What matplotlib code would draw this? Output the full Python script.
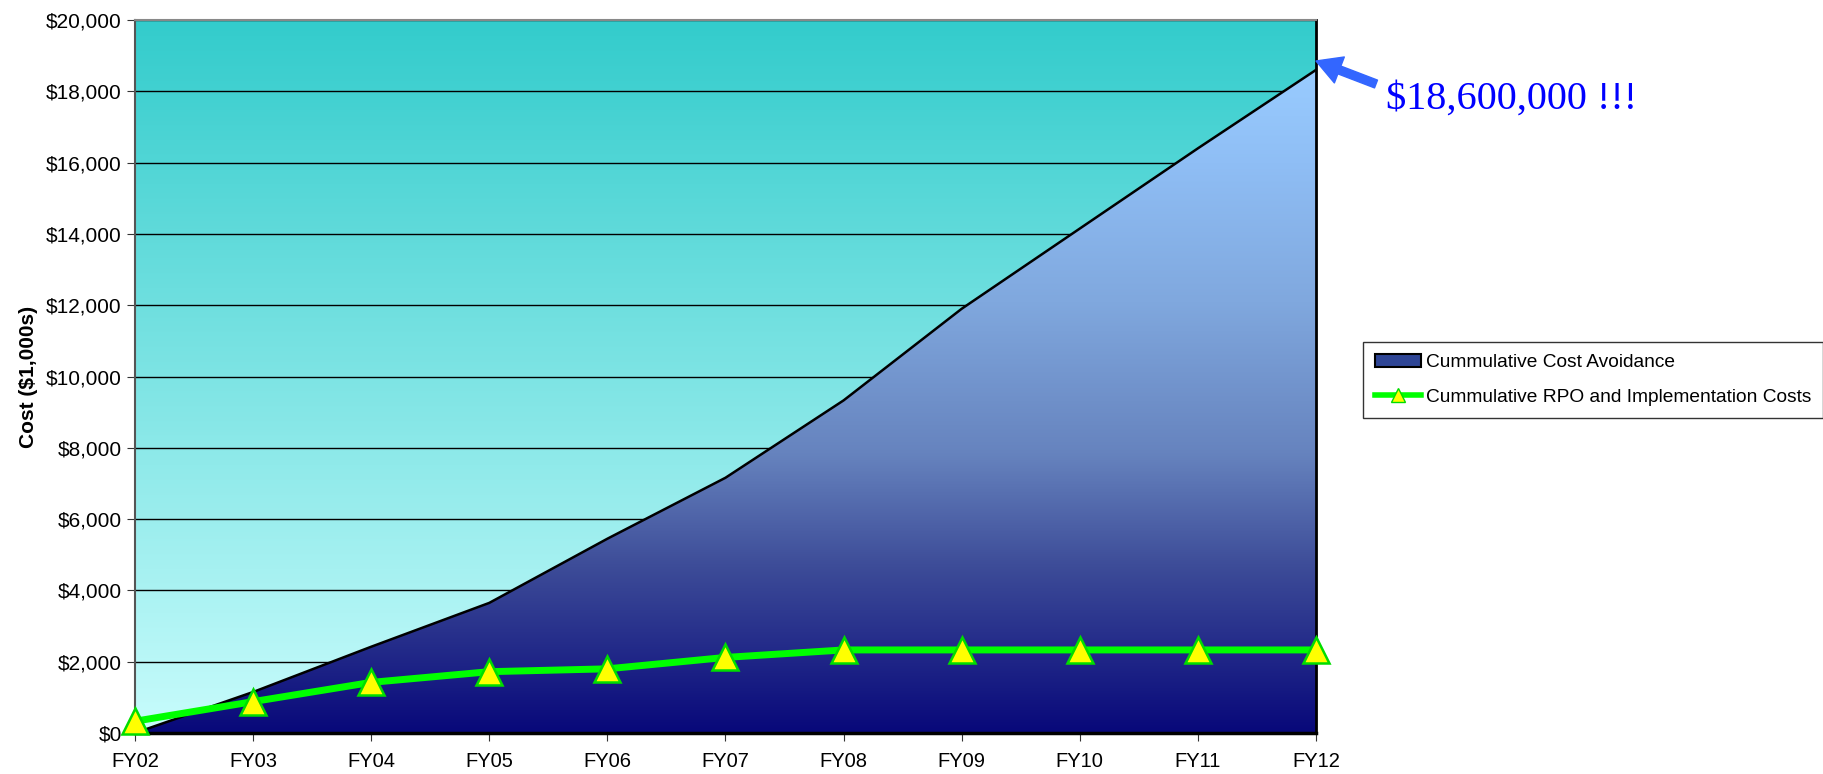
import numpy as np
import matplotlib
matplotlib.use("Agg")
import matplotlib.pyplot as plt
from matplotlib.colors import LinearSegmentedColormap
from matplotlib.patches import Patch
from matplotlib.lines import Line2D
from matplotlib.ticker import FuncFormatter

# data ($1,000s)
years = ["FY02", "FY03", "FY04", "FY05", "FY06", "FY07", "FY08", "FY09", "FY10", "FY11", "FY12"]
cost_avoidance = [0, 1150, 2420, 3650, 5450, 7160, 9330, 11900, 14150, 16400, 18600]
rpo_costs = [330, 880, 1420, 1720, 1800, 2120, 2330, 2330, 2330, 2330, 2330]

plt.rcParams['font.family'] = ['Liberation Sans', 'DejaVu Sans']

fig = plt.figure(figsize=(18.24, 7.74), dpi=100)
ax = fig.add_axes([135/1824, 1-733/774, (1316-135)/1824, (733-20)/774])

x = np.arange(len(years))
ymax = 20000

# plot area background gradient (light cyan at bottom -> teal at top)
bg_cmap = LinearSegmentedColormap.from_list("bg", ["#C8FCFC", "#33CCCC"])
grad = np.linspace(0, 1, 256).reshape(-1, 1)
ax.imshow(grad, cmap=bg_cmap, origin="lower", aspect="auto",
          extent=[0, len(years)-1, 0, ymax], zorder=0)

# area with its own gradient, clipped to the area polygon
poly = ax.fill_between(x, 0, cost_avoidance, facecolor="none", edgecolor="none", zorder=1)
area_cmap = LinearSegmentedColormap.from_list(
    "area", [(0, "#08087A"), (0.25, "#3D4C98"), (0.42, "#6683BE"),
             (0.65, "#80A8DE"), (0.86, "#8FBEF5"), (1, "#99CCFF")])
im = ax.imshow(grad, cmap=area_cmap, origin="lower", aspect="auto",
               extent=[0, len(years)-1, 0, max(cost_avoidance)], zorder=2)
im.set_clip_path(poly.get_paths()[0], transform=ax.transData)
ax.plot(x, cost_avoidance, color="black", lw=1.8, zorder=3)

# RPO + implementation line
ax.plot(x, rpo_costs, color="#00FF00", lw=5, marker="^", markersize=19,
        markerfacecolor="#FFFF00", markeredgecolor="#00DD00", markeredgewidth=1.8,
        zorder=5, clip_on=False)

ax.set_xlim(0, len(years)-1)
ax.set_ylim(0, ymax)
ax.set_xticks(x)
ax.set_xticklabels(years, fontsize=14.5)
ax.set_yticks(np.arange(0, ymax+1, 2000))
ax.yaxis.set_major_formatter(FuncFormatter(lambda v, p: "${:,.0f}".format(v)))
ax.tick_params(axis="y", labelsize=15, length=6, color="#333333")
ax.tick_params(axis="x", length=6, pad=8, color="#333333")
ax.set_ylabel("Cost ($1,000s)", fontsize=15, fontweight="bold", labelpad=6)

ax.set_axisbelow(True)
ax.yaxis.grid(True, color="black", lw=1, zorder=0.5)

ax.spines["left"].set_color("#555555")
ax.spines["left"].set_linewidth(1.5)
ax.spines["bottom"].set_color("black")
ax.spines["bottom"].set_linewidth(2.5)
ax.spines["right"].set_color("black")
ax.spines["right"].set_linewidth(2)
ax.spines["top"].set_color("#888888")
ax.spines["top"].set_linewidth(1.5)

# legend
handles = [
    Patch(facecolor="#2E4595", edgecolor="black", linewidth=1.5),
    Line2D([0], [0], color="#00FF00", lw=4, marker="^", markersize=10,
           markerfacecolor="#FFFF00", markeredgecolor="#00DD00"),
]
labels = ["Cummulative Cost Avoidance", "Cummulative RPO and Implementation Costs"]
leg = fig.legend(handles, labels, loc="center left", bbox_to_anchor=(1363/1824, 1-380/774),
                 fontsize=13.8, frameon=True, fancybox=False, edgecolor="black",
                 handlelength=2.4, handletextpad=0.3, borderpad=0.6, labelspacing=0.9,
                 borderaxespad=0)
leg.get_frame().set_linewidth(1)

# callout
ax.annotate("", xy=(len(years)-1, 18850), xytext=(1376/1824, 1-84/774),
            textcoords="figure fraction",
            arrowprops=dict(facecolor="#3366FF", edgecolor="#3366FF", width=6,
                            headwidth=20, headlength=18, shrink=0.0),
            annotation_clip=False)
fig.text(1386/1824, 1-99/774, "$18,600,000 !!!", color="#0000FF", fontsize=29,
         family=["Liberation Serif", "DejaVu Serif"], va="center", ha="left")

fig.savefig("out.png", dpi=100)
